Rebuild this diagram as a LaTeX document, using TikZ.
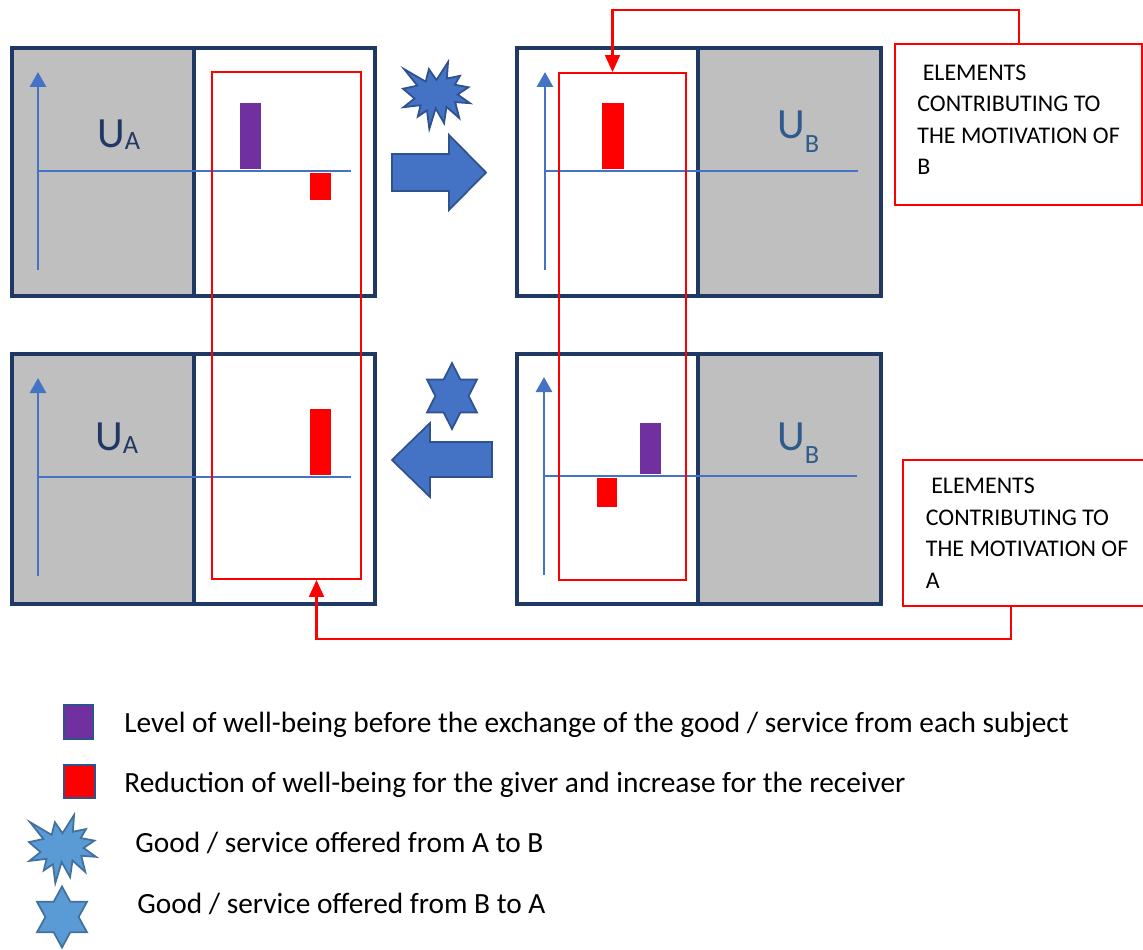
\documentclass[tikz,border=0pt]{standalone}
\usepackage{fontspec}
\setmainfont{Carlito}
\usetikzlibrary{arrows.meta, fit, calc, positioning}

\definecolor{navy}{HTML}{203864}
\definecolor{grayfill}{HTML}{BFBFBF}
\definecolor{axisblue}{HTML}{4472C4}
\definecolor{shapeedge}{HTML}{2F528F}
\definecolor{lightblue}{HTML}{5B9BD5}
\definecolor{lightedge}{HTML}{41719C}
\definecolor{wbpurple}{HTML}{7030A0}
\definecolor{ubcolor}{HTML}{2E5A8C}

\newcommand{\utext}[3]{{\fontsize{24.5}{26}\selectfont U}\hspace{#3}{\fontsize{15}{15}\selectfont\raisebox{#2}{#1}}}

\tikzset{
  burst/.pic={
    \draw[pic actions] (50,26.85) -- (67.23,0) -- (65.53,24.65) -- (85.09,20.63) -- (77.32,33.87)
      -- (97.67,37.67) -- (81.51,48.50) -- (100,61.53) -- (77.95,59.92) -- (84,83.77)
      -- (64.91,66.93) -- (61.33,91.38) -- (48.76,69.14) -- (39.28,100) -- (35.72,72.35)
      -- (22.05,81.56) -- (26.24,64.52) -- (0.63,67.53) -- (17.23,54.51) -- (0,39.88)
      -- (21.42,35.26) -- (1.71,10.63) -- (33.85,29.26) -- (38.67,10.63) -- cycle;
  },
  hexstar/.pic={
    \draw[pic actions] (90:33) -- (120:19) -- (150:33) -- (180:19) -- (210:33) -- (240:19)
      -- (270:33) -- (300:19) -- (330:33) -- (0:19) -- (30:33) -- (60:19) -- cycle;
  }
}

\begin{document}
\begin{tikzpicture}[x=0.02cm, y=-0.02cm,
    panel/.style={draw=navy, line width=2.3pt},
    shaded/.style={panel, fill=grayfill},
    axisline/.style={axisblue, line width=1.6pt},
    yaxis/.style={axisline, -{Triangle[length=0.3cm, width=0.32cm]}},
    redframe/.style={draw=red, line width=1.1pt, inner sep=0pt},
    notebox/.style={draw=red, line width=1.3pt, anchor=north west, align=left, inner sep=0pt,
      font=\fontsize{13.6}{17.9}\selectfont},
    motivlink/.style={red, line width=1.2pt, -{Triangle[length=0.34cm, width=0.3cm]}},
    bigarrow/.style={fill=axisblue, draw=shapeedge, line width=1pt},
    topshape/.style={fill=axisblue, draw=shapeedge, line width=1pt},
    keyshape/.style={fill=lightblue, draw=lightedge, line width=1pt},
    keybox/.style={draw=shapeedge, line width=1pt},
    keytext/.style={anchor=base west, inner sep=0pt, font=\fontsize{16.7}{20}\selectfont},
    ulabel/.style={anchor=base west, inner sep=0pt}
  ]
  \useasboundingbox (0,0) rectangle (1143,950);

  %draw panels
  \foreach \ya/\yb in {48/296, 354/604}{
    \draw[shaded] (12,\ya) rectangle (194,\yb);
    \draw[panel] (194,\ya) rectangle (375,\yb);
    \draw[panel] (517,\ya) rectangle (698,\yb);
    \draw[shaded] (698,\ya) rectangle (881,\yb);
  }

  %draw axes
  \foreach \ax/\ay in {38/171, 545/171, 38/477, 544/476}{
    \draw[yaxis] (\ax,\ay+99) -- (\ax,\ay-99);
    \draw[axisline] (\ax,\ay) -- (\ax+313,\ay);
  }

  %draw bars
  \fill[wbpurple] (240,103) rectangle (261,169);
  \fill[red] (310,173) rectangle (331,200);
  \fill[red] (602,103) rectangle (624,169);
  \fill[red] (310,409) rectangle (331,475);
  \fill[red] (597,478) rectangle (617,507);
  \fill[wbpurple] (640,423) rectangle (661,474);

  %draw utility labels
  \node[ulabel, text=navy] (uA1) at (97,147) {\utext{A}{-1.7pt}{0pt}};
  \node[ulabel, text=ubcolor] (uB1) at (777,138) {\utext{B}{-8pt}{0pt}};
  \node[ulabel, text=navy] (uA2) at (95,450) {\utext{A}{-2.2pt}{0pt}};
  \node[ulabel, text=ubcolor] (uB2) at (777,450) {\utext{B}{-7.4pt}{0pt}};

  %draw red frames
  \node[redframe, fit={(212,72) (361,579)}] (redA) {};
  \node[redframe, fit={(559,73) (686,580)}] (redB) {};

  %draw exchange arrows
  \draw[bigarrow] (392,154) -- (449,154) -- (449,135) -- (486,172.5) -- (449,210) -- (449,191) -- (392,191) -- cycle;
  \draw[bigarrow] (492,442) -- (430,442) -- (430,423) -- (392,460) -- (430,497) -- (430,477) -- (492,477) -- cycle;
  \pic[topshape, scale=0.67] at (403,62) {burst};
  \pic[topshape, xscale=0.875] at (452,396) {hexstar};

  %draw motivation boxes
  \node[notebox, minimum width=4.94cm, minimum height=3.22cm] (eltB) at (894,43)
    {\ ELEMENTS\\ CONTRIBUTING TO\\ THE MOTIVATION OF\\ B\strut};
  \node[notebox, minimum width=4.96cm, minimum height=2.92cm] (eltA) at (902,459)
    {\ ELEMENTS\\ CONTRIBUTING TO\\ THE MOTIVATION OF\\ A};

  %draw connectors
  \draw[motivlink] (eltB.north) -- ++(0,-33) -| ($(redB.north)+(-10,0)$);
  \draw[motivlink] ($(eltA.south)+(-16,0)$) -- ++(0,32) -| ($(redA.south)+(30,0)$);

  %draw legend
  \draw[keybox, fill=wbpurple] (64,705) rectangle (93,739);
  \draw[keybox, fill=red] (64,765) rectangle (95,798);
  \pic[keyshape, xscale=0.67, yscale=0.68] at (29,815) {burst};
  \pic[keyshape, xscale=0.875, yscale=0.924] at (62,917) {hexstar};
  \node[keytext] (keyLevel) at (124,732) {Level of well-being before the exchange of the good / service from each subject};
  \node[keytext] (keyReduction) at (124,792) {Reduction of well-being for the giver and increase for the receiver};
  \node[keytext] (keyAB) at (135,852) {Good / service offered from A to B};
  \node[keytext] (keyBA) at (137,913) {Good / service offered from B to A};
\end{tikzpicture}
\end{document}
